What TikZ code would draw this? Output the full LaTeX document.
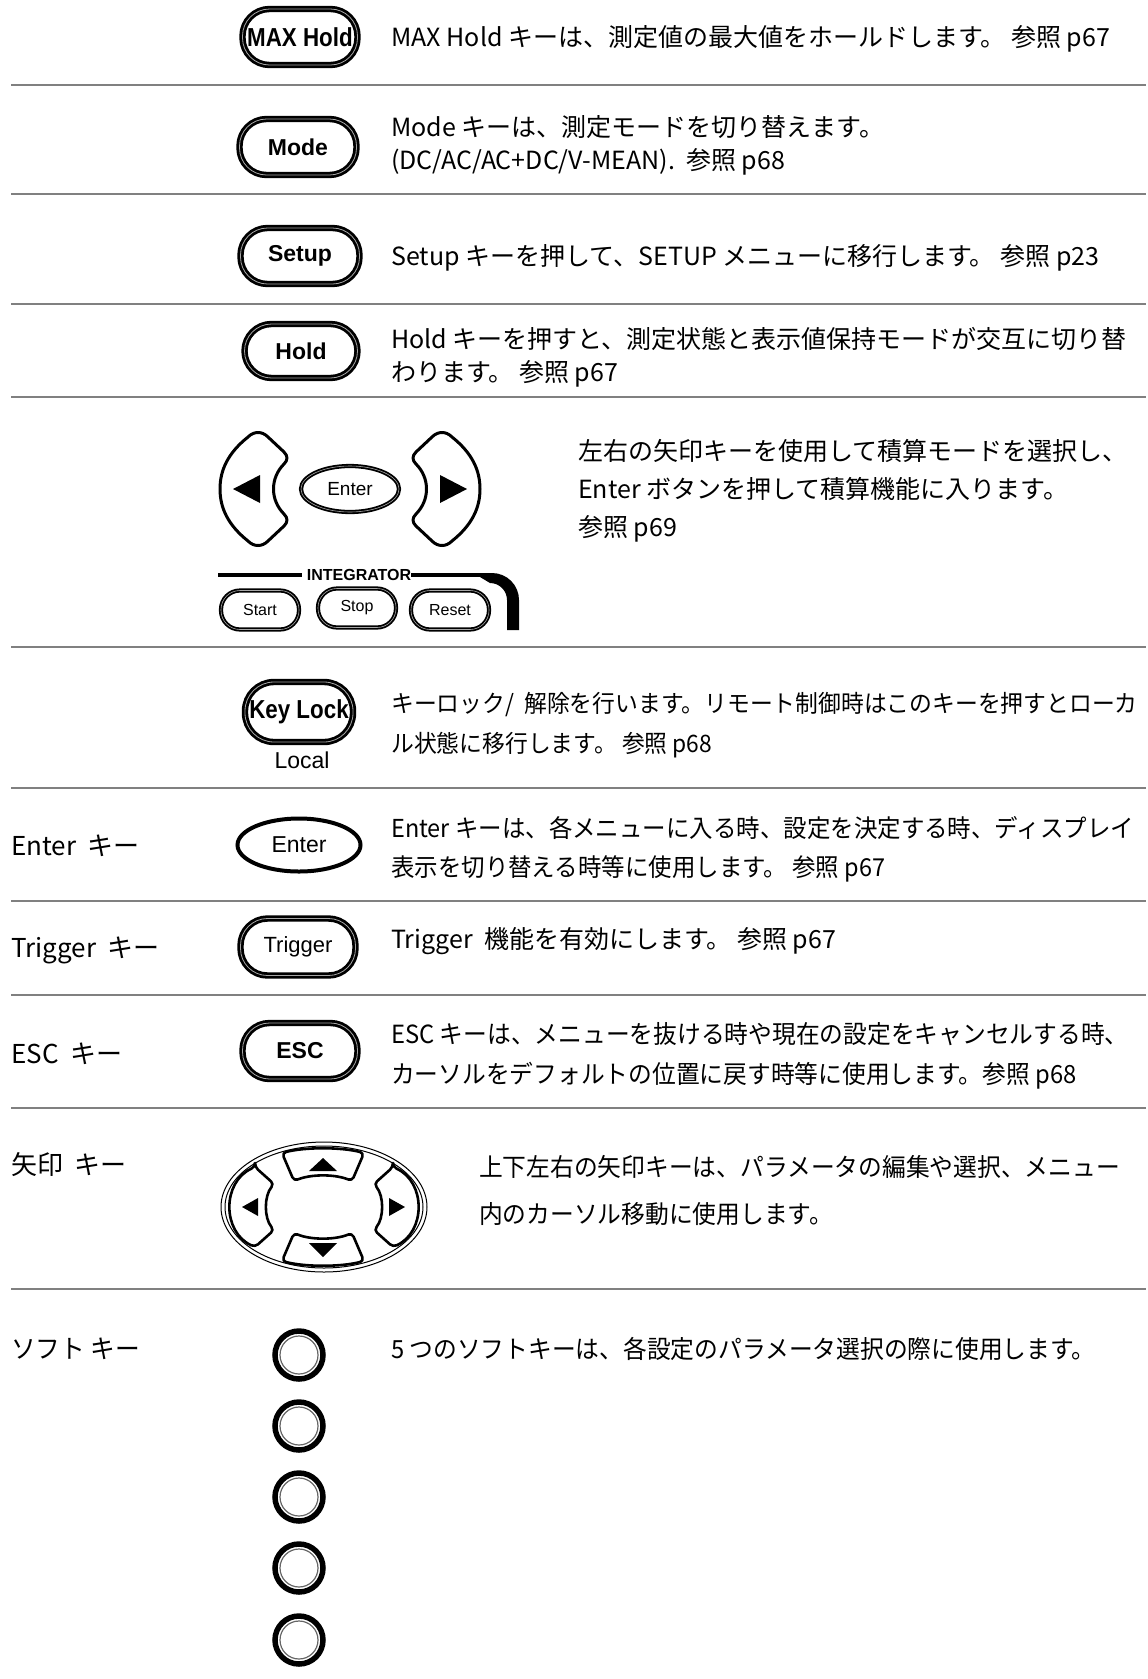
\documentclass[tikz,border=0pt]{standalone}
\usepackage{fontspec}
\setmainfont{Noto Sans CJK JP}
\newfontfamily\jpnarrow[FakeStretch=0.95]{Noto Sans CJK JP}
\newfontfamily\keyfont{Liberation Sans}
\newfontfamily\keynarrow[FakeStretch=0.86]{Liberation Sans}
\usetikzlibrary{shapes.geometric}

\tikzset{
  sepline/.style={draw=black!50, line width=2.5pt},
  keycap/.style={draw, rounded corners=27pt, minimum width=115pt, minimum height=56pt, inner sep=0pt, line width=2.8pt, double=black!35, double distance=0.8pt},
  boldkey/.style={keycap, font=\keyfont\bfseries\fontsize{23}{23}\selectfont},
  widekey/.style={keycap, font=\keynarrow\bfseries\fontsize{26}{26}\selectfont},
  plainkey/.style={keycap, font=\keyfont\fontsize{22}{22}\selectfont},
  smallkey/.style={draw, rounded corners=19pt, minimum width=78pt, minimum height=39pt, inner sep=0pt, line width=1.8pt, double=black!35, double distance=0.6pt, font=\keyfont\fontsize{16}{16}\selectfont},
  ovalkey/.style={draw, ellipse, inner sep=0pt, line width=2.5pt, font=\keyfont\fontsize{23}{23}\selectfont},
  arrowkey/.style={draw, line width=3pt, line join=round},
  padkey/.style={draw, line width=2.6pt, rounded corners=4pt, line join=round},
  softkey/.style={circle, draw, line width=5.5pt, minimum size=48pt, inner sep=0pt},
  desc/.style={anchor=west, inner sep=0pt, align=left, font=\fontsize{25}{33}\selectfont},
  narrowdesc/.style={desc, font=\jpnarrow\fontsize{25}{40}\selectfont},
  rowname/.style={anchor=west, inner sep=0pt, font=\fontsize{26}{26}\selectfont}
}

\begin{document}
\begin{tikzpicture}[x=1pt,y=-1pt]
\useasboundingbox (0,0) rectangle (1148,1679);
% row separators
\foreach \y in {85,194,304,397,647,788,901,995,1108,1289}
  \draw[sepline] (11,\y) -- (1146,\y);

% MAX Hold / Mode / Setup / Hold
\node[widekey] (maxhold) at (300,37) {MAX Hold};
\node[desc] (maxholdtxt) at (391,39) {MAX Hold キーは、測定値の最大値をホールドします。 参照 p67};
\node[boldkey, minimum width=117pt] (mode) at (298,147) {Mode};
\node[desc] (modetxt) at (391,145) {Mode キーは、測定モードを切り替えます。\\(DC/AC/AC+DC/V-MEAN).\ \ 参照 p68};
\node[boldkey, minimum width=119pt] (setup) at (300,256) {Setup};
\node[desc] (setuptxt) at (391,258) {Setup キーを押して、SETUP メニューに移行します。 参照 p23};
\node[boldkey, minimum width=113pt, minimum height=54pt] (hold) at (301,351) {Hold};
\node[desc] (holdtxt) at (391,357) {Hold キーを押すと、測定状態と表示値保持モードが交互に切り替\\わります。 参照 p67};

% integrator block
\draw[arrowkey] (268,437) -- (284,452) .. controls (288,456) and (288,460) .. (284,464)
  .. controls (270,478) and (270,500) .. (284,514) .. controls (288,518) and (288,522) .. (284,526)
  -- (268,541) .. controls (262,547) and (254,547) .. (248,541)
  .. controls (228,525) and (220,508) .. (220,489) .. controls (220,470) and (228,453) .. (248,437)
  .. controls (254,431) and (262,431) .. cycle;
\fill (233,489) -- (260,475) -- (260,503) -- cycle;
\draw[arrowkey] (432,437) -- (416,452) .. controls (412,456) and (412,460) .. (416,464)
  .. controls (430,478) and (430,500) .. (416,514) .. controls (412,518) and (412,522) .. (416,526)
  -- (432,541) .. controls (438,547) and (446,547) .. (452,541)
  .. controls (472,525) and (480,508) .. (480,489) .. controls (480,470) and (472,453) .. (452,437)
  .. controls (446,431) and (438,431) .. cycle;
\fill (467,489) -- (440,475) -- (440,503) -- cycle;
\node[ovalkey, line width=1.8pt, double=black!35, double distance=0.6pt, minimum width=98pt, minimum height=46pt, font=\keyfont\fontsize{19}{19}\selectfont] (intenter) at (350,489) {Enter};
\node[font=\keyfont\bfseries\fontsize{16}{16}\selectfont, inner sep=0pt] (integ) at (359,575) {INTEGRATOR};
\draw[line width=3.5pt] (218,575) -- ([xshift=-5pt]integ.west);
\draw[line width=3.5pt] (integ.east) -- (482,575);
\fill (480,573) -- (492,573) arc[start angle=-90, end angle=0, radius=27] -- (519,630) -- (507,630) -- (507,600) arc[start angle=0, end angle=-90, radius=17] -- (480,577) -- cycle;
\node[smallkey] (start) at (260,610) {Start};
\node[smallkey] (stop) at (357,608) {Stop};
\node[smallkey] (reset) at (450,610) {Reset};
\node[desc, font=\fontsize{25}{38}\selectfont] (inttxt) at (578,491) {左右の矢印キーを使用して積算モードを選択し、\\Enter ボタンを押して積算機能に入ります。\\参照 p69};

% Key Lock
\node[widekey, minimum width=108pt, minimum height=60pt, rounded corners=29pt] (keylock) at (299,712) {Key Lock};
\node[font=\keyfont\fontsize{23}{23}\selectfont, inner sep=0pt] (local) at (302,760) {Local};
\node[narrowdesc, font=\jpnarrow\fontsize{24}{40}\selectfont] (locktxt) at (391,725) {キーロック/\ \ 解除を行います。リモート制御時はこのキーを押すとローカ\\ル状態に移行します。 参照 p68};

% Enter / Trigger / ESC
\node[rowname] (enterlbl) at (11,846) {Enter\ \ キー};
\node[ovalkey, line width=4pt, minimum width=123pt, minimum height=53pt] (enter) at (299,845) {Enter};
\node[narrowdesc, font=\jpnarrow\fontsize{24.7}{39}\selectfont] (entertxt) at (391,849) {Enter キーは、各メニューに入る時、設定を決定する時、ディスプレイ\\表示を切り替える時等に使用します。 参照 p67};
\node[rowname] (triglbl) at (11,950) {Trigger\ \ キー};
\node[plainkey, minimum height=57pt] (trigger) at (298,947) {Trigger};
\node[desc] (trigtxt) at (391,941) {Trigger\ \ 機能を有効にします。 参照 p67};
\node[rowname] (esclbl) at (11,1054) {ESC\ \ キー};
\node[boldkey] (esc) at (300,1051) {ESC};
\node[narrowdesc] (esctxt) at (391,1056) {ESC キーは、メニューを抜ける時や現在の設定をキャンセルする時、\\カーソルをデフォルトの位置に戻す時等に使用します。参照 p68};

% arrow pad
\node[rowname] (arrowlbl) at (11,1165) {矢印\ \ キー};
\draw[line width=1pt] (324,1207) ellipse [x radius=103, y radius=65];
\draw[line width=1pt] (324,1207) ellipse [x radius=99, y radius=61];
\draw[padkey] (282,1153) .. controls (305,1147) and (341,1147) .. (364,1153) -- (352,1181) .. controls (335,1174) and (311,1174) .. (294,1181) -- cycle;
\draw[padkey] (282,1261) .. controls (305,1267) and (341,1267) .. (364,1261) -- (352,1233) .. controls (335,1240) and (311,1240) .. (294,1233) -- cycle;
\draw[padkey] (255,1167) -- (274,1184) .. controls (264,1196) and (264,1218) .. (274,1230) -- (255,1247) .. controls (222,1232) and (222,1182) .. cycle;
\draw[padkey] (393,1167) -- (374,1184) .. controls (384,1196) and (384,1218) .. (374,1230) -- (393,1247) .. controls (426,1232) and (426,1182) .. cycle;
\fill (323,1158) -- (309,1171) -- (337,1171) -- cycle;
\fill (323,1257) -- (309,1243) -- (337,1243) -- cycle;
\fill (242,1207) -- (258,1198) -- (258,1216) -- cycle;
\fill (405,1207) -- (389,1198) -- (389,1216) -- cycle;
\node[narrowdesc, font=\jpnarrow\fontsize{25}{47}\selectfont] (arrowtxt) at (479,1190) {上下左右の矢印キーは、パラメータの編集や選択、メニュー\\内のカーソル移動に使用します。};

% soft keys
\node[rowname, font=\jpnarrow\fontsize{26}{26}\selectfont] (softlbl) at (11,1349) {ソフト~キー};
\foreach \y [count=\i] in {1355,1426,1497,1568,1640} {
  \node[softkey] (soft\i) at (299,\y) {};
  \draw[black!60, line width=1.2pt] (soft\i.center) circle (19);
}
\node[narrowdesc] (softtxt) at (391,1349) {5 つのソフトキーは、各設定のパラメータ選択の際に使用します。};
\end{tikzpicture}
\end{document}
